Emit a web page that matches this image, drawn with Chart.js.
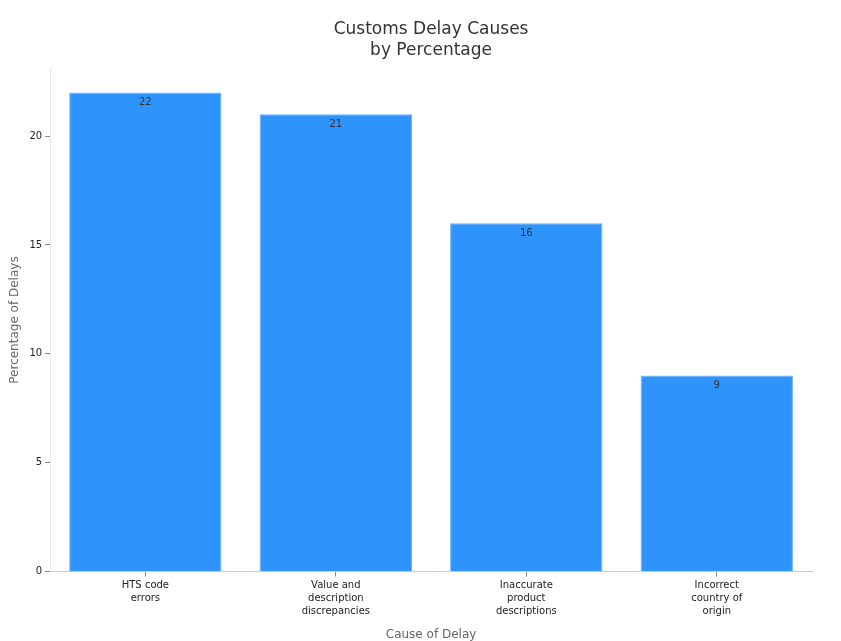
<!DOCTYPE html>
<html>
<head>
<meta charset="utf-8">
<script src="https://cdn.jsdelivr.net/npm/chart.js@4"></script>
<style>
 body { margin: 0; background: #fff; }
 #wrap { width: 841px; height: 641px; }
</style>
</head>
<body>
<div id="wrap"><canvas id="delay-chart"></canvas></div>
<script>
const causes = [
  ['HTS code', 'errors'],
  ['Value and', 'description', 'discrepancies'],
  ['Inaccurate', 'product', 'descriptions'],
  ['Incorrect', 'country of', 'origin']
];
const percents = [22, 21, 16, 9];

// draws the value just under the top of each bar
const barValues = {
  id: 'barValues',
  afterDatasetsDraw(chart) {
    const ctx = chart.ctx;
    ctx.save();
    ctx.font = '10px "DejaVu Sans"';
    ctx.fillStyle = '#333';
    ctx.textAlign = 'center';
    ctx.textBaseline = 'top';
    chart.getDatasetMeta(0).data.forEach((bar, i) => {
      ctx.fillText(chart.data.datasets[0].data[i], bar.x, bar.y + 5);
    });
    ctx.restore();
  }
};

Chart.defaults.font.family = '"DejaVu Sans", sans-serif';

new Chart(document.getElementById('delay-chart'), {
  type: 'bar',
  data: {
    labels: causes,
    datasets: [{
      label: 'Percentage of Delays',
      data: percents,
      backgroundColor: '#2e93fa',
      borderColor: '#6ab4ff',
      borderWidth: 1,
      categoryPercentage: 0.8,
      barPercentage: 1
    }]
  },
  plugins: [barValues],
  options: {
    responsive: true,
    maintainAspectRatio: false,
    animation: false,
    layout: { padding: { left: 4, right: 29, top: 8, bottom: -5 } },
    plugins: {
      legend: { display: false },
      tooltip: { enabled: false },
      title: {
        display: true,
        text: ['Customs Delay Causes', 'by Percentage'],
        color: '#333',
        font: { size: 17, weight: 'normal', lineHeight: 1.25 },
        padding: { top: 11, bottom: 7 },
        fullSize: false
      }
    },
    scales: {
      x: {
        grid: { offset: false, drawOnChartArea: false, drawTicks: true, tickLength: 5, color: '#888' },
        border: { color: '#ccc' },
        ticks: { color: '#222', font: { size: 10, lineHeight: 1.3 }, padding: 2 },
        title: { display: true, text: 'Cause of Delay', color: '#666', font: { size: 12 }, padding: { top: 8 } }
      },
      y: {
        min: 0,
        max: 23.1,
        grid: { drawOnChartArea: false, drawTicks: true, tickLength: 5, color: '#888' },
        border: { color: '#e6e6e6' },
        ticks: {
          stepSize: 5,
          color: '#222',
          font: { size: 10 },
          padding: 3,
          callback: v => (v % 5 === 0 ? v : null)
        },
        title: { display: true, text: 'Percentage of Delays', color: '#666', font: { size: 12 } }
      }
    }
  }
});
</script>
</body>
</html>
